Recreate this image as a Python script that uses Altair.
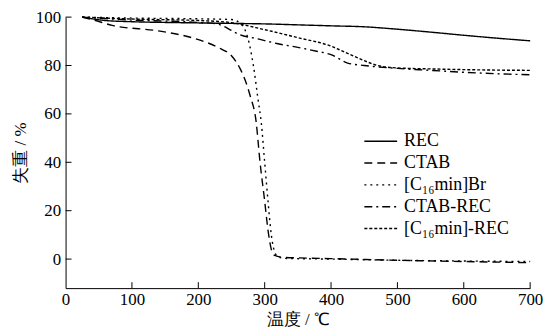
import altair as alt
import pandas as pd

series_names = ["REC", "CTAB", "[C₁₆min]Br", "CTAB-REC", "[C₁₆min]-REC"]

rec_t = [25, 60, 100, 150, 200, 250, 300, 350, 400, 450, 500, 550, 600, 650, 700]
rec_w = [100, 98.6, 98.1, 97.8, 97.6, 97.4, 97.2, 96.8, 96.4, 96.0, 95.0, 93.8, 92.5, 91.3, 90.2]

ctab_t = [25, 40, 70, 140, 190, 230, 250, 263, 278, 287, 293, 300, 305, 310, 315, 325, 350, 400, 500, 600, 700]
ctab_w = [100, 99, 96.6, 94.3, 91.5, 87.4, 84, 78.7, 67.6, 57, 40, 24, 12, 4, 1.5, 0.8, 0.5, 0.2, -0.5, -1.0, -1.5]

br_t = [25, 100, 200, 250, 265, 275, 283, 290, 295, 300, 305, 310, 315, 320, 330, 400, 500, 600, 700]
br_w = [100, 99.6, 99.3, 99, 97, 91, 80, 66, 56, 40, 24, 10, 3, 1, 0.3, 0, -0.5, -0.8, -1.0]

ctabrec_t = [25, 100, 200, 226, 250, 260, 290, 320, 350, 380, 400, 425, 450, 500, 550, 600, 650, 700]
ctabrec_w = [100, 98.8, 97.8, 97.3, 94.5, 93, 91, 89, 87.5, 85.8, 84.5, 81, 80, 78.8, 78, 77.2, 76.6, 76.2]

c16rec_t = [25, 100, 200, 250, 300, 350, 400, 425, 450, 470, 500, 550, 600, 650, 700]
c16rec_w = [100, 99.2, 98.6, 97.7, 94.8, 91.5, 88, 85, 82, 80, 79, 78.6, 78.3, 78.1, 78]

dash_styles = [[1, 0], [8, 5], [2, 4], [8, 4, 2, 4], [3, 2]]

x_ticks = [0, 100, 200, 300, 400, 500, 600, 700]
y_ticks = [0, 20, 40, 60, 80, 100]

rows = []
for name, ts, ws in zip(series_names,
                        [rec_t, ctab_t, br_t, ctabrec_t, c16rec_t],
                        [rec_w, ctab_w, br_w, ctabrec_w, c16rec_w]):
    for t, w in zip(ts, ws):
        rows.append({"series": name, "T": t, "W": w})
df = pd.DataFrame(rows)

FONT = "Liberation Serif"
W, H = 468, 273

xscale = alt.Scale(domain=[0, 700], nice=False, zero=False)
yscale = alt.Scale(domain=[-12, 100], nice=False, zero=False)

axis_common = dict(tickSize=0, grid=False, labelFont=FONT, titleFont=FONT,
                   labelFontSize=17, titleFontSize=17, labelColor="black",
                   titleColor="black", titleFontWeight="normal", labelFlush=False,
                   domainColor="black", domainWidth=1, labelOverlap=False)
xaxis = alt.Axis(values=x_ticks, title="温度 / ℃", labelPadding=4, titlePadding=4, **axis_common)
yaxis = alt.Axis(values=y_ticks, title="失重 / %", labelPadding=5, titlePadding=6, **axis_common)

lines = alt.Chart(df).mark_line(interpolate="monotone", strokeWidth=1.4, color="black").encode(
    x=alt.X("T:Q", scale=xscale, axis=xaxis),
    y=alt.Y("W:Q", scale=yscale, axis=yaxis),
    strokeDash=alt.StrokeDash("series:N",
        scale=alt.Scale(domain=series_names, range=dash_styles),
        sort=series_names,
        legend=alt.Legend(orient="none", legendX=300, legendY=114, title=None,
                          symbolType="stroke", symbolSize=1089, symbolStrokeWidth=1.4,
                          symbolStrokeColor="black", labelFont=FONT, labelFontSize=18,
                          labelColor="black", rowPadding=0, clipHeight=22, labelOffset=6)),
    detail="series:N",
)

xt = alt.Chart(pd.DataFrame({"v": x_ticks[1:]})).mark_rule(color="black", strokeWidth=1).encode(
    x=alt.X("v:Q", scale=xscale, axis=xaxis), y=alt.value(H), y2=alt.value(H - 6))
yt = alt.Chart(pd.DataFrame({"v": y_ticks})).mark_rule(color="black", strokeWidth=1).encode(
    y=alt.Y("v:Q", scale=yscale, axis=yaxis), x=alt.value(0), x2=alt.value(6))

chart = alt.layer(lines, xt, yt).properties(
    width=W, height=H,
    autosize=alt.AutoSizeParams(type="none"),
    padding={"left": 58, "top": 8, "right": 20, "bottom": 40},
).configure_view(stroke=None)

chart.save("out.html", embed_options={"renderer": "svg", "actions": False})
